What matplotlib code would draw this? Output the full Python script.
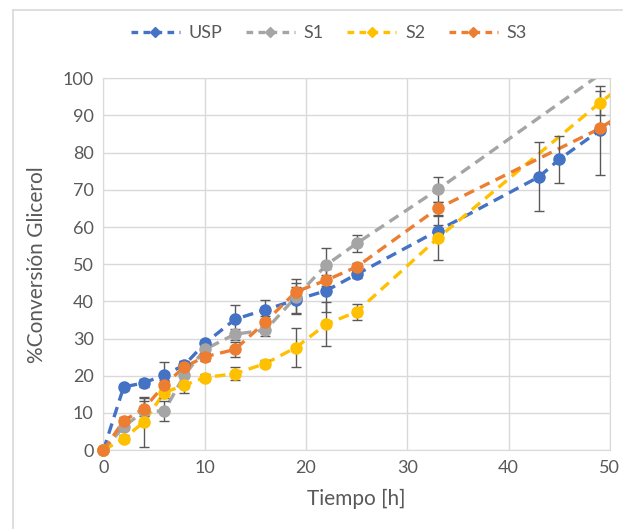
import numpy as np
import matplotlib.pyplot as plt
from matplotlib.lines import Line2D

plt.rcParams['font.family'] = ['Lato', 'DejaVu Sans']

# sampling times (h); the last point lies past the visible x range
tiempo = [0, 2, 4, 6, 8, 10, 13, 16, 19, 22, 25, 33, 43, 45, 49, 51]

usp = [0, 17.0, 18.1, 20.2, 22.9, 28.7, 35.2, 37.8, 40.4, 42.9, 47.3, 59.0, 73.5, 78.2, 86.0, 89.6]
s1 = [0, 6.3, 10.5, 10.5, 20.2, 27.1, 31.2, 32.3, 41.2, 49.8, 55.6, 70.1, None, None, 101.0, 104.8]
s2 = [0, 3.1, 7.6, 15.5, 17.5, 19.5, 20.6, 23.3, 27.6, 33.9, 37.2, 57.0, None, None, 93.4, 97.6]
s3 = [0, 7.9, 11.2, 17.5, 22.4, 25.1, 27.1, 34.5, 42.6, 45.7, 49.3, 65.0, None, None, 86.5, 90.1]

usp_err = [0, 0.8, 1.0, 3.6, 1.0, 1.0, 3.8, 2.7, 3.5, 5.7, 1.0, 1.5, 9.3, 6.3, 12.0, 0]
s1_err = [0, 1.0, 3.5, 2.6, 2.5, 1.0, 1.5, 1.5, 4.7, 4.7, 2.2, 3.3, 0, 0, 0, 0]
s2_err = [0, 1.0, 6.7, 1.5, 2.0, 1.0, 1.8, 1.0, 5.2, 6.0, 2.2, 5.9, 0, 0, 3.2, 0]
s3_err = [0, 1.0, 2.0, 1.5, 1.5, 1.0, 2.0, 1.5, 2.3, 1.5, 1.0, 1.7, 0, 0, 1.0, 0]

series = [
    ('USP', usp, usp_err, '#4472C4'),
    ('S1', s1, s1_err, '#A5A5A5'),
    ('S2', s2, s2_err, '#FFC000'),
    ('S3', s3, s3_err, '#ED7D31'),
]

fig = plt.figure(figsize=(6.23, 5.29), dpi=100)
ax = fig.add_axes([0.166, 0.149, 0.813, 0.703])

t = np.array(tiempo, dtype=float)
handles = []
for name, vals, errs, color in series:
    y = np.array([np.nan if v is None else v for v in vals], dtype=float)
    e = np.array(errs, dtype=float)
    ok = ~np.isnan(y)
    # dashed connecting line, clipped at the plot edges
    ax.plot(t[ok], y[ok], color=color, lw=2.4, ls=(0, (3.2, 2.0)),
            dash_capstyle='butt', zorder=2)
    vis = ok & (t <= 50) & (y <= 100)
    has_err = vis & (e > 0)
    ax.errorbar(t[has_err], y[has_err], yerr=e[has_err], fmt='none',
                ecolor='#595959', elinewidth=1.0, capsize=3.5, capthick=1.0,
                zorder=3)
    ax.plot(t[vis], y[vis], 'o', color=color, ms=8, mec=color,
            clip_on=False, zorder=4)
    handles.append(Line2D([0], [0], color=color, lw=2.4, ls=(0, (2.0, 1.6)),
                          marker='D', ms=5, label=name))

ax.set_xlim(0, 50)
ax.set_ylim(0, 100)
ax.set_xticks(np.arange(0, 51, 10))
ax.set_yticks(np.arange(0, 101, 10))
ax.grid(True, color='#D9D9D9', lw=1.0)
ax.set_axisbelow(True)
for sp in ax.spines.values():
    sp.set_color('#D9D9D9')
ax.tick_params(length=0, labelsize=13, labelcolor='#595959', pad=7)

ax.set_xlabel('Tiempo [h]', fontsize=15, color='#595959', labelpad=9)
ax.set_ylabel('%Conversión Glicerol', fontsize=15, color='#595959', labelpad=11)

fig.legend(handles=handles, loc='center', bbox_to_anchor=(0.528, 0.937),
           ncol=4, frameon=False, fontsize=13, handlelength=2.7,
           columnspacing=1.3, handletextpad=0.5, labelcolor='#595959')

# chart frame edges visible in the reference
fig.add_artist(Line2D([0.021, 0.021], [0, 0.981], color='#D9D9D9', lw=1.2))
fig.add_artist(Line2D([0.021, 1], [0.981, 0.981], color='#D9D9D9', lw=1.2))

fig.savefig('out.png', dpi=100, facecolor='white')
